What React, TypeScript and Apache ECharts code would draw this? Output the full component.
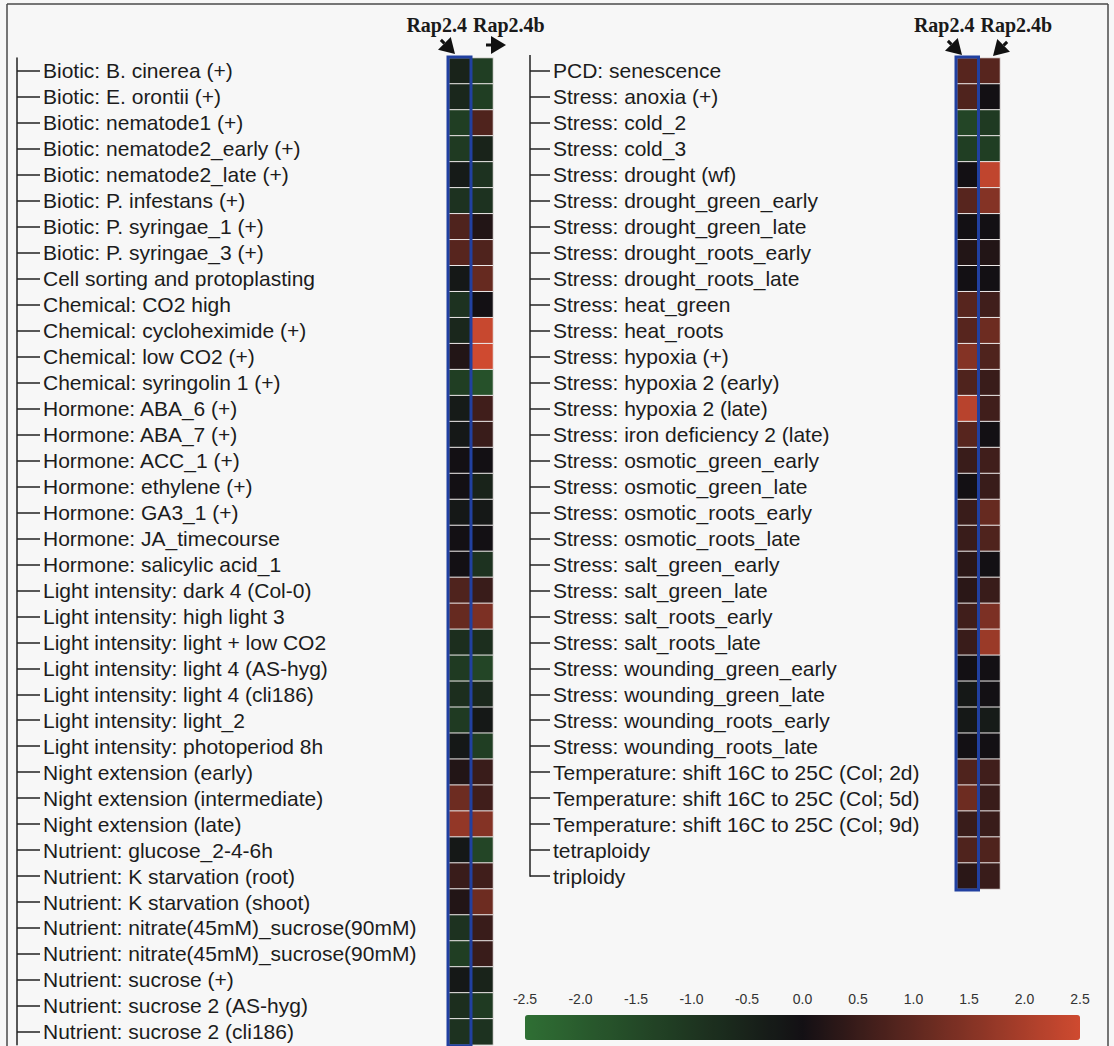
import React, { useEffect, useRef } from "react";
import * as echarts from "echarts";

const columns = ["Rap2.4", "Rap2.4b"];

const leftConditions = [
  "Biotic: B. cinerea (+)",
  "Biotic: E. orontii (+)",
  "Biotic: nematode1 (+)",
  "Biotic: nematode2_early (+)",
  "Biotic: nematode2_late (+)",
  "Biotic: P. infestans (+)",
  "Biotic: P. syringae_1 (+)",
  "Biotic: P. syringae_3 (+)",
  "Cell sorting and protoplasting",
  "Chemical: CO2 high",
  "Chemical: cycloheximide (+)",
  "Chemical: low CO2 (+)",
  "Chemical: syringolin 1 (+)",
  "Hormone: ABA_6 (+)",
  "Hormone: ABA_7 (+)",
  "Hormone: ACC_1 (+)",
  "Hormone: ethylene (+)",
  "Hormone: GA3_1 (+)",
  "Hormone: JA_timecourse",
  "Hormone: salicylic acid_1",
  "Light intensity: dark 4 (Col-0)",
  "Light intensity: high light 3",
  "Light intensity: light + low CO2",
  "Light intensity: light 4 (AS-hyg)",
  "Light intensity: light 4 (cli186)",
  "Light intensity: light_2",
  "Light intensity: photoperiod 8h",
  "Night extension (early)",
  "Night extension (intermediate)",
  "Night extension (late)",
  "Nutrient: glucose_2-4-6h",
  "Nutrient: K starvation (root)",
  "Nutrient: K starvation (shoot)",
  "Nutrient: nitrate(45mM)_sucrose(90mM)",
  "Nutrient: nitrate(45mM)_sucrose(90mM) ",
  "Nutrient: sucrose (+)",
  "Nutrient: sucrose 2 (AS-hyg)",
  "Nutrient: sucrose 2 (cli186)",
];

const leftRap24 = [
  -0.5, -0.6, -1.2, -1.1, -0.3, -0.9, 0.8, 0.9, -0.2, -0.9, -0.6, 0.2, -1.2,
  -0.3, -0.2, 0.0, 0.0, -0.2, 0.0, 0.0, 0.8, 1.1, -0.8, -1.1, -0.8, -1.1, -0.2,
  0.2, 1.2, 1.7, -0.2, 0.5, 0.2, -0.9, -1.2, -0.2, -0.8, -0.9,
];

const leftRap24b = [
  -1.2, -1.2, 0.8, -0.5, -0.9, -0.9, 0.2, 0.8, 1.1, 0.0, 2.4, 2.5, -1.7, 0.6,
  0.5, 0.0, -0.5, -0.2, 0.0, -0.9, 0.5, 1.4, -0.8, -1.4, -0.6, -0.2, -1.2, 0.5,
  0.6, 1.5, -1.4, 0.6, 1.2, 0.5, 0.5, -0.5, -1.1, -0.9,
];

const rightConditions = [
  "PCD: senescence",
  "Stress: anoxia (+)",
  "Stress: cold_2",
  "Stress: cold_3",
  "Stress: drought (wf)",
  "Stress: drought_green_early",
  "Stress: drought_green_late",
  "Stress: drought_roots_early",
  "Stress: drought_roots_late",
  "Stress: heat_green",
  "Stress: heat_roots",
  "Stress: hypoxia (+)",
  "Stress: hypoxia 2 (early)",
  "Stress: hypoxia 2 (late)",
  "Stress: iron deficiency 2 (late)",
  "Stress: osmotic_green_early",
  "Stress: osmotic_green_late",
  "Stress: osmotic_roots_early",
  "Stress: osmotic_roots_late",
  "Stress: salt_green_early",
  "Stress: salt_green_late",
  "Stress: salt_roots_early",
  "Stress: salt_roots_late",
  "Stress: wounding_green_early",
  "Stress: wounding_green_late",
  "Stress: wounding_roots_early",
  "Stress: wounding_roots_late",
  "Temperature: shift 16C to 25C (Col; 2d)",
  "Temperature: shift 16C to 25C (Col; 5d)",
  "Temperature: shift 16C to 25C (Col; 9d)",
  "tetraploidy",
  "triploidy",
];

const rightRap24 = [
  0.9, 0.8, -1.4, -1.2, 0.0, 0.9, 0.0, 0.2, 0.0, 0.9, 0.9, 1.5, 0.8, 2.2, 0.9,
  0.5, 0.0, 0.5, 0.5, 0.3, 0.3, 0.6, 0.5, 0.0, -0.2, -0.2, 0.0, 0.8, 1.2, 0.5,
  0.8, 0.3,
];

const rightRap24b = [
  0.9, 0.0, -1.1, -1.2, 2.3, 1.5, 0.0, 0.2, 0.0, 0.6, 1.2, 0.8, 0.5, 0.6, 0.0,
  0.6, 0.5, 1.1, 0.8, 0.0, 0.5, 1.4, 1.8, 0.0, 0.0, -0.3, 0.0, 0.6, 0.5, 0.5,
  0.8, 0.5,
];

const scaleMin = -2.5;
const scaleMax = 2.5;
const scaleStep = 0.5;
const scaleColors = ["#2f6f34", "#131014", "#cf4a30"];

// layout constants
const ROW_H = 25.97;
const TOP = 58;
const LEFT_GRID = { left: 449, width: 44 };
const RIGHT_GRID = { left: 957, width: 43 };
const LEFT_TREE_X = 17;
const RIGHT_TREE_X = 530;
const LABEL_FONT = "'Liberation Sans', Arial, sans-serif";
const BLUE = "#2140a0";
const INK = "#222";

function toCells(a: number[], b: number[]) {
  const out: number[][] = [];
  a.forEach((v, i) => out.push([0, i, v]));
  b.forEach((v, i) => out.push([1, i, v]));
  return out;
}

function treeAxis(
  gridIndex: number,
  data: string[],
  gridLeft: number,
  treeX: number,
  tickLen: number,
  labelGap: number,
  showLine: boolean
) {
  return {
    type: "category",
    gridIndex,
    data,
    inverse: true,
    position: "left",
    offset: gridLeft - treeX,
    axisLine: { show: showLine, lineStyle: { color: INK, width: 1.5 } },
    axisTick: {
      show: true,
      inside: true,
      length: tickLen,
      alignWithLabel: true,
      interval: 0,
      lineStyle: { color: INK, width: 1.5 },
    },
    axisLabel: {
      inside: true,
      margin: labelGap,
      interval: 0,
      fontSize: 21,
      fontFamily: LABEL_FONT,
      color: "#1c1c1c",
    },
    splitLine: { show: false },
  };
}

function blueBox(grid: { left: number; width: number }, rows: number) {
  const cw = grid.width / 2;
  return {
    type: "rect",
    z: 100,
    shape: { x: grid.left - 1, y: TOP - 1, width: cw + 1, height: rows * ROW_H + 2 },
    style: { fill: "none", stroke: BLUE, lineWidth: 3 },
  };
}

function titles(grid: { left: number; width: number }) {
  const cw = grid.width / 2;
  const style = { font: "bold 20px 'Liberation Serif', 'Times New Roman', serif", fill: "#1a1a1a" };
  return [
    {
      type: "text",
      z: 100,
      x: grid.left + cw - 4,
      y: 25,
      style: { ...style, text: columns[0], align: "right", verticalAlign: "middle" },
    },
    {
      type: "text",
      z: 100,
      x: grid.left + cw + 2,
      y: 25,
      style: { ...style, text: columns[1], align: "left", verticalAlign: "middle" },
    },
  ];
}

function arrowHead(tipX: number, tipY: number, dx: number, dy: number) {
  const len = 15;
  const half = 9;
  const n = Math.hypot(dx, dy);
  const ux = dx / n;
  const uy = dy / n;
  const bx = tipX - ux * len;
  const by = tipY - uy * len;
  return [
    {
      type: "polygon",
      z: 100,
      shape: {
        points: [
          [tipX, tipY],
          [bx - uy * half, by + ux * half],
          [bx + uy * half, by - ux * half],
        ],
      },
      style: { fill: "#111" },
    },
    {
      type: "line",
      z: 100,
      shape: { x1: bx - ux * 5, y1: by - uy * 5, x2: bx, y2: by },
      style: { stroke: "#111", lineWidth: 3 },
    },
  ];
}

export default function App() {
  const ref = useRef<HTMLDivElement>(null);

  useEffect(() => {
    if (!ref.current) return;
    const chart = echarts.init(ref.current, null, { renderer: "svg" });

    const frameStyle = { stroke: "#4a4a4a", lineWidth: 1.5 };
    // the right-hand tree trunk stops at the last item (└ shape)
    const rightTrunkEnd = TOP + (rightConditions.length - 0.5) * ROW_H;

    const option: any = {
      animation: false,
      backgroundColor: "#f7f7f7",
      grid: [
        { left: LEFT_GRID.left, width: LEFT_GRID.width, top: TOP, height: leftConditions.length * ROW_H },
        { left: RIGHT_GRID.left, width: RIGHT_GRID.width, top: TOP, height: rightConditions.length * ROW_H },
        { left: 525, width: 555, top: 1015, height: 25 },
      ],
      xAxis: [
        { type: "category", gridIndex: 0, data: columns, show: false },
        { type: "category", gridIndex: 1, data: columns, show: false },
        {
          type: "value",
          gridIndex: 2,
          min: scaleMin,
          max: scaleMax,
          interval: scaleStep,
          position: "top",
          axisLine: { show: false },
          axisTick: { show: false },
          splitLine: { show: false },
          axisLabel: {
            margin: 9,
            fontSize: 14,
            fontFamily: LABEL_FONT,
            color: "#333",
            showMinLabel: true,
            showMaxLabel: true,
            formatter: (v: number) => v.toFixed(1),
          },
        },
      ],
      yAxis: [
        treeAxis(0, leftConditions, LEFT_GRID.left, LEFT_TREE_X, 23, 26, true),
        treeAxis(1, rightConditions, RIGHT_GRID.left, RIGHT_TREE_X, 20, 23, false),
        { type: "value", gridIndex: 2, min: 0, max: 1, show: false },
      ],
      visualMap: {
        type: "continuous",
        min: scaleMin,
        max: scaleMax,
        seriesIndex: [0, 1],
        orient: "horizontal",
        left: 525,
        top: 1015,
        padding: 0,
        itemWidth: 25,
        itemHeight: 555,
        calculable: false,
        hoverLink: false,
        inRange: { color: scaleColors },
      },
      series: [
        {
          type: "heatmap",
          xAxisIndex: 0,
          yAxisIndex: 0,
          data: toCells(leftRap24, leftRap24b),
          itemStyle: { borderColor: "#ece8e8", borderWidth: 1 },
        },
        {
          type: "heatmap",
          xAxisIndex: 1,
          yAxisIndex: 1,
          data: toCells(rightRap24, rightRap24b),
          itemStyle: { borderColor: "#ece8e8", borderWidth: 1 },
        },
        { type: "scatter", xAxisIndex: 2, yAxisIndex: 2, data: [] },
      ],
      graphic: [
        { type: "line", z: 100, shape: { x1: 7, y1: 4, x2: 1108, y2: 4 }, style: frameStyle },
        { type: "line", z: 100, shape: { x1: 7, y1: 4, x2: 7, y2: 1046 }, style: frameStyle },
        { type: "line", z: 100, shape: { x1: 1108, y1: 4, x2: 1108, y2: 1046 }, style: frameStyle },
        {
          type: "line",
          z: 100,
          shape: { x1: RIGHT_TREE_X, y1: TOP - 3, x2: RIGHT_TREE_X, y2: rightTrunkEnd + 0.75 },
          style: { stroke: INK, lineWidth: 1.5 },
        },
        blueBox(LEFT_GRID, leftConditions.length),
        blueBox(RIGHT_GRID, rightConditions.length),
        ...titles(LEFT_GRID),
        ...titles(RIGHT_GRID),
        ...arrowHead(455, 54, 1, 1),
        ...arrowHead(506, 45, 1, 0),
        ...arrowHead(962, 55, 1, 1),
        ...arrowHead(993, 56, -1, 1),
      ],
    };

    chart.setOption(option);
    return () => chart.dispose();
  }, []);

  return (
    <div
      ref={ref}
      style={{ position: "absolute", left: 0, top: 0, width: 1114, height: 1046 }}
    />
  );
}
